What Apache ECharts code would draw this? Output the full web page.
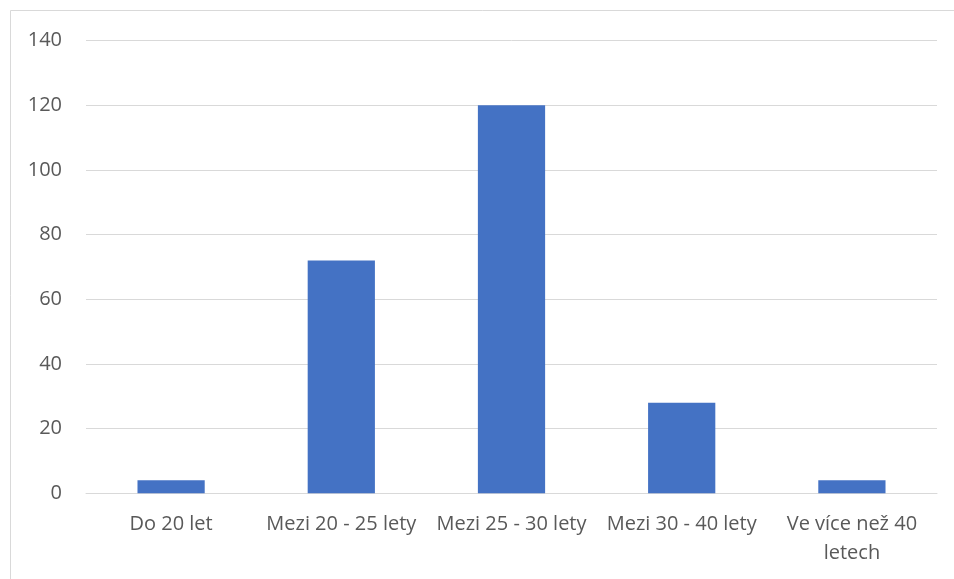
<!DOCTYPE html>
<html>
<head>
<meta charset="utf-8">
<script src="https://cdn.jsdelivr.net/npm/echarts@6/dist/echarts.min.js"></script>
<style>html,body{margin:0;padding:0;background:#fff}#c{width:954px;height:579px}</style>
</head>
<body>
<div id="c"></div>
<script>
const categories = ['Do 20 let', 'Mezi 20 - 25 lety', 'Mezi 25 - 30 lety', 'Mezi 30 - 40 lety', 'Ve více než 40\nletech'];
const values = [4, 72, 120, 28, 4];
const yMin = 0, yMax = 140, yStep = 20;

const chart = echarts.init(document.getElementById('c'), null, {renderer: 'canvas'});
chart.setOption({
  animation: false,
  backgroundColor: '#ffffff',
  graphic: [{
    type: 'rect', silent: true,
    shape: {x: 10.5, y: 10.5, width: 1000, height: 1000},
    style: {fill: 'none', stroke: '#d9d9d9', lineWidth: 1}
  }],
  grid: {left: 86, right: 17, top: 40.7, bottom: 85.7, containLabel: false},
  xAxis: {
    type: 'category',
    data: categories,
    axisLine: {show: true, lineStyle: {color: '#d9d9d9', width: 1}},
    axisTick: {show: false},
    axisLabel: {color: '#595959', fontFamily: '"Open Sans", "Noto Sans", sans-serif', fontSize: 20, margin: 16, lineHeight: 29, interval: 0}
  },
  yAxis: {
    type: 'value',
    min: yMin, max: yMax, interval: yStep,
    axisLine: {show: false},
    axisTick: {show: false},
    splitLine: {lineStyle: {color: '#d9d9d9', width: 1}},
    axisLabel: {color: '#595959', fontFamily: '"Open Sans", "Noto Sans", sans-serif', fontSize: 20, margin: 24}
  },
  series: [{
    type: 'bar',
    data: values,
    barWidth: '39.5%',
    itemStyle: {color: '#4472c4'}
  }]
});
</script>
</body>
</html>
